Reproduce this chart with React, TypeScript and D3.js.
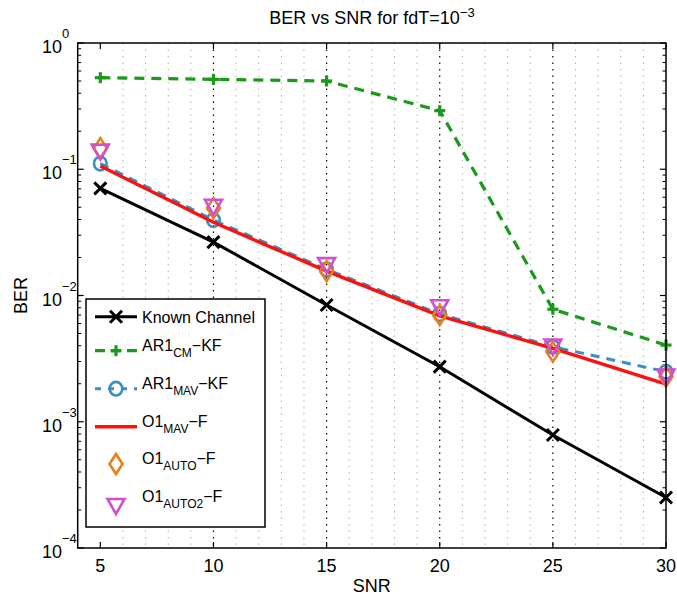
import React from "react";
import * as d3 from "d3";

const snr = [5, 10, 15, 20, 25, 30];
const knownChannel = [0.0706, 0.0265, 0.0084, 0.00273, 0.000785, 0.000251];
const ar1CM = [0.531, 0.515, 0.5, 0.291, 0.00778, 0.00405];
const ar1MAV = [0.111, 0.0396, 0.0161, 0.00714, 0.00393, 0.00249];
const o1MAV = [0.106, 0.038, 0.0156, 0.0069, 0.00382, 0.00199];
const o1AUTO = [0.147, 0.0493, 0.0156, 0.007, 0.00359, 0.00228];
const o1AUTO2 = [0.138, 0.0504, 0.0174, 0.00807, 0.00395, 0.00228];
const xTicks = [5, 10, 15, 20, 25, 30];
const yDecades = [0, -1, -2, -3, -4];

const FONT = "'Liberation Sans', Arial, Helvetica, sans-serif";
const W = 677;
const H = 598;
const L = 77.7, R = 666, T = 43, B = 548;

const GREEN = "#1a9a1a";
const BLUE = "#3a8fc0";
const RED = "#ff1010";
const ORANGE = "#e8801a";
const MAGENTA = "#d050d0";

export default function App() {
  const x = d3.scaleLinear().domain([4, 30]).range([L, R]);
  const y = d3.scaleLog().domain([1e-4, 1]).range([B, T]);
  const line = d3
    .line<[number, number]>()
    .x((d) => x(d[0]))
    .y((d) => y(d[1]));
  const pts = (vals: number[]) => snr.map((s, i) => [s, vals[i]] as [number, number]);

  const minorX = d3.range(5, 30).filter((v) => v % 5 !== 0);
  const majorGridX = [10, 15, 20, 25];
  const minorY: number[] = [];
  for (let e = -4; e < 0; e++) for (let m = 2; m <= 9; m++) minorY.push(m * Math.pow(10, e));

  const xMark = (cx: number, cy: number, key: string, s = 6) => (
    <g key={key} stroke="#000" strokeWidth={3}>
      <line x1={cx - s} y1={cy - s} x2={cx + s} y2={cy + s} />
      <line x1={cx - s} y1={cy + s} x2={cx + s} y2={cy - s} />
    </g>
  );
  const plusMark = (cx: number, cy: number, key: string, s = 5.5) => (
    <g key={key} stroke={GREEN} strokeWidth={3.2}>
      <line x1={cx - s} y1={cy} x2={cx + s} y2={cy} />
      <line x1={cx} y1={cy - s} x2={cx} y2={cy + s} />
    </g>
  );
  const circleMark = (cx: number, cy: number, key: string) => (
    <ellipse key={key} cx={cx} cy={cy} rx={6.3} ry={6.8} fill="none" stroke={BLUE} strokeWidth={2.6} />
  );
  const diamondMark = (cx: number, cy: number, key: string) => (
    <path
      key={key}
      d={`M${cx},${cy - 10} L${cx + 6.5},${cy} L${cx},${cy + 10} L${cx - 6.5},${cy} Z`}
      fill="none"
      stroke={ORANGE}
      strokeWidth={2.6}
    />
  );
  const triMark = (cx: number, cy: number, key: string) => (
    <path
      key={key}
      d={`M${cx - 8.5},${cy - 7} L${cx + 8.5},${cy - 7} L${cx},${cy + 8} Z`}
      fill="none"
      stroke={MAGENTA}
      strokeWidth={2.6}
    />
  );

  const legendRows = [
    { y: 316.7, main: "Known Channel", sub: "", tail: "" },
    { y: 350.7, main: "AR1", sub: "CM", tail: "\u2212KF" },
    { y: 388.7, main: "AR1", sub: "MAV", tail: "\u2212KF" },
    { y: 426.7, main: "O1", sub: "MAV", tail: "\u2212F" },
    { y: 464, main: "O1", sub: "AUTO", tail: "\u2212F" },
    { y: 502, main: "O1", sub: "AUTO2", tail: "\u2212F" },
  ];
  const lx1 = 95, lx2 = 137, lmx = 116, ltx = 142;

  return (
    <svg width={W} height={H} style={{ position: "absolute", left: 0, top: 0, background: "#fff" }} fontFamily={FONT}>
      <rect x={0} y={0} width={W} height={H} fill="#fff" />
      {/* grid */}
      {minorX.map((v) => (
        <line key={"gx" + v} x1={x(v)} x2={x(v)} y1={T} y2={B} stroke="#b0b0b0" strokeWidth={1} strokeDasharray="1.5,5" />
      ))}
      {majorGridX.map((v) => (
        <line key={"gX" + v} x1={x(v)} x2={x(v)} y1={T} y2={B} stroke="#000" strokeWidth={1.2} strokeDasharray="1.5,5" />
      ))}
      {/* ticks */}
      {xTicks.map((v) => (
        <g key={"xt" + v} stroke="#000" strokeWidth={1.2}>
          <line x1={x(v)} x2={x(v)} y1={B} y2={B - 6} />
          <line x1={x(v)} x2={x(v)} y1={T} y2={T + 6} />
        </g>
      ))}
      {yDecades.map((e) => (
        <g key={"yt" + e} stroke="#000" strokeWidth={1.2}>
          <line x1={L} x2={L + 6} y1={y(Math.pow(10, e))} y2={y(Math.pow(10, e))} />
          <line x1={R} x2={R - 6} y1={y(Math.pow(10, e))} y2={y(Math.pow(10, e))} />
        </g>
      ))}
      {minorY.map((v, i) => (
        <g key={"ym" + i} stroke="#000" strokeWidth={1}>
          <line x1={L} x2={L + 3.5} y1={y(v)} y2={y(v)} />
          <line x1={R} x2={R - 3.5} y1={y(v)} y2={y(v)} />
        </g>
      ))}
      {/* series */}
      <path d={line(pts(knownChannel)) || ""} fill="none" stroke="#000" strokeWidth={3} />
      {pts(knownChannel).map((d, i) => xMark(x(d[0]), y(d[1]), "k" + i))}
      <path d={line(pts(ar1CM)) || ""} fill="none" stroke={GREEN} strokeWidth={3.2} strokeDasharray="10,7" />
      {pts(ar1CM).map((d, i) => plusMark(x(d[0]), y(d[1]), "g" + i))}
      <path d={line(pts(ar1MAV)) || ""} fill="none" stroke={BLUE} strokeWidth={3} strokeDasharray="9,7" />
      {pts(ar1MAV).map((d, i) => circleMark(x(d[0]), y(d[1]), "b" + i))}
      <path d={line(pts(o1MAV)) || ""} fill="none" stroke={RED} strokeWidth={3.4} />
      {pts(o1AUTO).map((d, i) => diamondMark(x(d[0]), y(d[1]), "o" + i))}
      {pts(o1AUTO2).map((d, i) => triMark(x(d[0]), y(d[1]), "m" + i))}
      {/* axes box */}
      <rect x={L} y={T} width={R - L} height={B - T} fill="none" stroke="#000" strokeWidth={1.5} />
      {/* x tick labels */}
      {xTicks.map((v) => (
        <text key={"xl" + v} x={x(v)} y={572} textAnchor="middle" fontSize={18}>
          {v}
        </text>
      ))}
      {/* y tick labels */}
      {yDecades.map((e) => {
        const yy = y(Math.pow(10, e));
        return (
          <g key={"yl" + e}>
            <text x={62} y={yy + 10} textAnchor="end" fontSize={18}>
              10
            </text>
            <text x={62} y={yy - 5} textAnchor="start" fontSize={13}>
              {e === 0 ? "0" : "\u2212" + Math.abs(e)}
            </text>
          </g>
        );
      })}
      <text x={x(17)} y={592} textAnchor="middle" fontSize={18}>
        SNR
      </text>
      <text transform={`translate(27,${(T + B) / 2}) rotate(-90)`} textAnchor="middle" fontSize={18}>
        BER
      </text>
      <text x={372} y={24} textAnchor="middle" fontSize={18}>
        BER vs SNR for fdT=10
        <tspan fontSize={13} dy={-7}>
          {"\u22123"}
        </tspan>
      </text>
      {/* legend */}
      <rect x={86} y={299} width={179} height={228} fill="#fff" stroke="#000" strokeWidth={1.5} />
      <line x1={lx1} x2={lx2} y1={legendRows[0].y} y2={legendRows[0].y} stroke="#000" strokeWidth={3} />
      {xMark(lmx, legendRows[0].y, "lk")}
      <line x1={lx1} x2={lx2} y1={legendRows[1].y} y2={legendRows[1].y} stroke={GREEN} strokeWidth={3.2} strokeDasharray="10,6" />
      {plusMark(lmx, legendRows[1].y, "lg")}
      <line x1={lx1} x2={lx2} y1={legendRows[2].y} y2={legendRows[2].y} stroke={BLUE} strokeWidth={3} strokeDasharray="6,7" />
      {circleMark(lmx, legendRows[2].y, "lb")}
      <line x1={lx1} x2={lx2} y1={legendRows[3].y} y2={legendRows[3].y} stroke={RED} strokeWidth={3.4} />
      {diamondMark(lmx, legendRows[4].y, "lo")}
      {triMark(lmx, legendRows[5].y + 4, "lm")}
      {legendRows.map((r, i) =>
        r.sub === "" ? (
          <text key={"lt" + i} x={ltx} y={r.y + 6.5} fontSize={16}>
            {r.main}
          </text>
        ) : (
          <text key={"lt" + i} x={ltx} y={r.y} fontSize={16}>
            {r.main}
            <tspan fontSize={12} dy={6}>
              {r.sub}
            </tspan>
            <tspan dy={-6}>{r.tail}</tspan>
          </text>
        )
      )}
    </svg>
  );
}
